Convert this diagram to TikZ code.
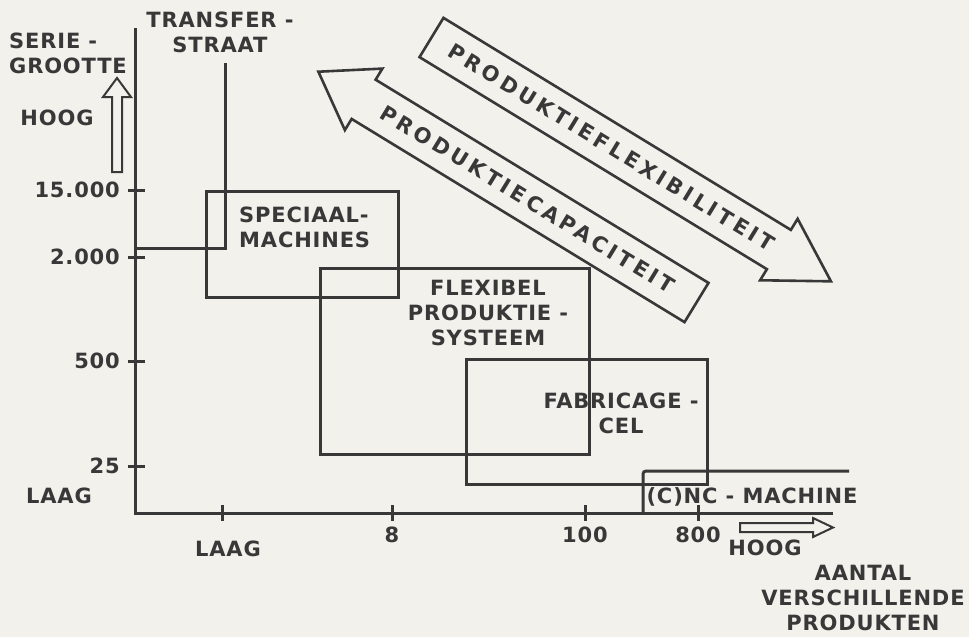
\documentclass[tikz,border=0pt]{standalone}
\usepackage{fontspec}
\usepackage{xcolor}
\usepackage{tikz}
\usetikzlibrary{positioning}
\newfontfamily\lblfont[LetterSpace=4]{DejaVu Sans}
\newfontfamily\arrowfont[LetterSpace=18]{DejaVu Sans}
\definecolor{inkgray}{HTML}{383838}
\definecolor{paper}{HTML}{F2F1EC}

\begin{document}
\begin{tikzpicture}[x=1pt, y=-1pt]
    % Styles
    \tikzstyle{lbl} = [font=\lblfont\bfseries\fontsize{21}{25}\selectfont, text=inkgray, inner sep=0pt]
    \tikzstyle{arrowtxt} = [font=\arrowfont\bfseries\fontsize{21}{25}\selectfont, text=inkgray, inner sep=0pt, rotate=-31.4]
    \tikzstyle{line} = [draw=inkgray, line width=3pt]
    \tikzstyle{area} = [rectangle, draw=inkgray, line width=3pt, anchor=north west, inner sep=0pt]
    \tikzstyle{bigarrow} = [draw=inkgray, fill=paper, line width=2.6pt, line join=miter]
    \tikzstyle{hollow} = [draw=inkgray, line width=2pt, line join=miter]

    \useasboundingbox (0,0) rectangle (969,637);
    \fill [paper] (0,0) rectangle (969,637);

    % Axes
    \coordinate (origin) at (135,513);
    \coordinate (ytop) at (135,28);
    \coordinate (xend) at (833,513);
    \path [line] (ytop) -- (origin) -- (xend);
    \foreach \y/\t [count=\i] in {190/15.000, 257/2.000, 361/500, 466/25} {
        \path [line] (128,\y) -- (145,\y);
        \node [lbl, anchor=east] (ytick\i) at (120,\y) {\t};
    }
    \path [line] (222,505) -- (222,521);
    \foreach \x/\t [count=\i] in {392/8, 585/100, 698/800} {
        \path [line] (\x,505) -- (\x,521);
        \node [lbl] (xtick\i) at (\x,535) {\t};
    }

    % Axis labels
    \node [lbl, align=left, anchor=west] (serie) at (9,53) {SERIE -\\GROOTTE};
    \node [lbl] (yhoog) at (57,118) {HOOG};
    \node [lbl] (ylaag) at (59,496) {LAAG};
    \node [lbl] (xlaag) at (228,549) {LAAG};
    \node [lbl] (xhoog) at (765,548) {HOOG};
    \node [lbl, align=center] (aantal) at (863,598) {AANTAL\\VERSCHILLENDE\\PRODUKTEN};
    \path [hollow] (112,172) -- (112,97) -- (103,97) -- (117,78) -- (131,97) -- (122,97) -- (122,172) -- cycle;
    \path [hollow] (740,523) -- (813,523) -- (813,518) -- (833,527.5) -- (813,537) -- (813,532) -- (740,532) -- cycle;

    % Areas
    \node [area, minimum width=192pt, minimum height=106pt] (spec) at (205,190) {};
    \node [area, minimum width=269pt, minimum height=186pt] (fps) at (319,267) {};
    \node [area, minimum width=241pt, minimum height=125pt] (fab) at (465,358) {};
    \node [lbl, align=left, anchor=west] (speclab) at (239,227) {SPECIAAL-\\MACHINES};
    \node [lbl, align=center] (fpslab) at (488,313) {FLEXIBEL\\PRODUKTIE -\\SYSTEEM};
    \node [lbl, align=center] (fablab) at (621,413) {FABRICAGE -\\CEL};

    % Transferstraat and (C)NC
    \node [lbl, align=center] (transfer) at (220,32) {TRANSFER -\\STRAAT};
    \coordinate (tstop) at (225,63);
    \coordinate (ts2000) at (135,248);
    \path [line] (tstop) |- (ts2000);
    \node [lbl] (cnclab) at (752,497) {(C)NC - MACHINE};
    \coordinate (cncfoot) at (643,513);
    \coordinate (cncend) at (849,471);
    \path [line, rounded corners=3pt] (cncfoot) |- (cncend);

    % Big arrows
    \begin{scope}[shift={(431.5,37.5)}, rotate=-31.4]
        \path [bigarrow] (0,-23) -- (407,-23) -- (407,-36) -- (468,0) -- (407,36) -- (407,23) -- (0,23) -- cycle;
        \node [arrowtxt] (flex) at (211,0) {PRODUKTIEFLEXIBILITEIT};
    \end{scope}
    \begin{scope}[shift={(696.5,302.5)}, rotate=148.6]
        \path [bigarrow] (0,-23) -- (390,-23) -- (390,-36) -- (443,0) -- (390,36) -- (390,23) -- (0,23) -- cycle;
        \node [arrowtxt] (cap) at (198,0) {PRODUKTIECAPACITEIT};
    \end{scope}
\end{tikzpicture}
\end{document}
